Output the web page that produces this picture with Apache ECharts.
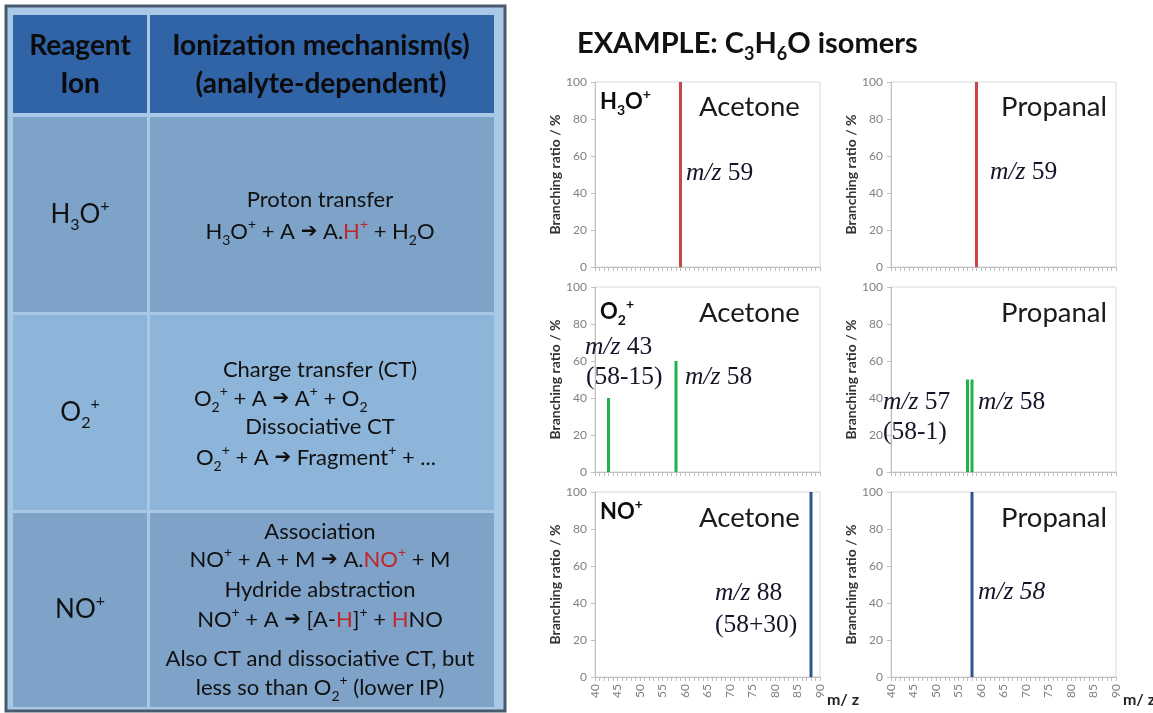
<!DOCTYPE html>
<html><head><meta charset="utf-8">
<script src="https://cdn.jsdelivr.net/npm/echarts@6/dist/echarts.min.js"></script>
<style>html,body{margin:0;padding:0;background:#fff}#c{width:1153px;height:713px}</style>
</head><body><div id="c"></div>
<script>
// ---------------- data ----------------
const mzMin = 40, mzMax = 90, mzStep = 5;          // m/z axis
const brMin = 0, brMax = 100, brStep = 20;         // branching ratio axis
const reagentIons = ['H{b|3}O{p|+}', 'O{b|2}{p|+}', 'NO{p|+}'];
const isomers = ['Acetone', 'Propanal'];
// [m/z, branching ratio %]
const h3oAcetone  = [[59, 100]];
const h3oPropanal = [[59, 100]];
const o2Acetone   = [[43, 40], [58, 60]];
const o2Propanal  = [[57, 50], [58, 50]];
const noAcetone   = [[88, 100]];
const noPropanal  = [[58, 100]];
const rowColors = ['#c8464a', '#22b24c', '#2d5493'];

// table text
const tableHeader1 = ['Reagent', 'Ion'];
const tableHeader2 = ['Ionization mechanism(s)', '(analyte-dependent)'];
const rowH3O = ['Proton transfer', 'H{b|3}O{p|+} + A {a|➔} A.{r|H}{rp|+} + H{b|2}O'];
const rowO2 = ['Charge transfer (CT)', 'O{b|2}{p|+} + A {a|➔} A{p|+} + O{b|2}', 'Dissociative CT', 'O{b|2}{p|+} + A {a|➔} Fragment{p|+} + ...'];
const rowNO = ['Association', 'NO{p|+} + A + M {a|➔} A.{r|NO}{rp|+} + M', 'Hydride abstraction', 'NO{p|+} + A {a|➔} [A-{r|H}]{p|+} + {r|H}NO', 'Also CT and dissociative CT, but', 'less so than O{b|2}{p|+} (lower IP)'];

// annotations
const titleText = 'EXAMPLE: C{b|3}H{b|6}O isomers';
const annotations = [
  ['{i|m/z} 59'], ['{i|m/z} 59'],
  ['{i|m/z} 43', '(58-15)', '{i|m/z} 58'], ['{i|m/z} 57', '(58-1)', '{i|m/z} 58'],
  ['{i|m/z} 88', '(58+30)'], ['{i|m/z 58}']
];

// ---------------- styles / layout ----------------
const FONT = 'Lato, "DejaVu Sans", sans-serif';
const SERIF = '"Liberation Serif", "DejaVu Serif", serif';
const ARROWF = '"DejaVu Sans", sans-serif';

function rich(size, weight, color) {
  const s = Math.round(size * 0.62);
  return {
    b: {fontSize: s, fontFamily: FONT, fontWeight: weight, lineHeight: s, verticalAlign: 'bottom', fill: color},
    p: {fontSize: s, fontFamily: FONT, fontWeight: weight, lineHeight: Math.round(s * 1.3), verticalAlign: 'top', fill: color},
    r: {fontSize: size, fontFamily: FONT, fontWeight: weight, fill: '#c0262c'},
    rp: {fontSize: s, fontFamily: FONT, fontWeight: weight, lineHeight: Math.round(s * 1.3), verticalAlign: 'top', fill: '#c0262c'},
    a: {fontSize: Math.round(size * 0.9), fontFamily: ARROWF, fill: color},
    i: {fontSize: size, fontFamily: SERIF, fontStyle: 'italic', fill: color}
  };
}
function txt(text, x, y, size, opts) {
  opts = opts || {};
  const weight = opts.weight || 'normal';
  const color = opts.color || '#111';
  const fam = opts.family || FONT;
  return {
    type: 'text', x: x, y: y, z: 100,
    style: {
      text: text, fontSize: size, fontFamily: fam, fontWeight: weight,
      fontStyle: opts.style || 'normal', fill: color,
      lineHeight: Math.round(size * 1.35),
      align: opts.align || 'center', verticalAlign: 'middle',
      rich: rich(size, weight, color)
    }
  };
}
function rect(x, y, w, h, fill, stroke, lw) {
  return {type: 'rect', z: 1, shape: {x: x, y: y, width: w, height: h},
    style: {fill: fill, stroke: stroke || null, lineWidth: lw || 0}};
}

const graphics = [];
// table frame and cells
graphics.push(rect(6, 6, 499, 705, '#a8c8e5', '#4a5a6d', 3));
const colX = [[13, 134], [150, 344]];
const rowY = [[15, 98, '#3163a7'], [117, 195, '#7ea3c9'], [315, 195, '#8db4d9'], [513, 194, '#7ea2c8']];
rowY.forEach(r => colX.forEach(c => graphics.push(rect(c[0], r[0], c[1], r[1], r[2]))));

const hdr = {weight: 'bold', color: '#0b0b0b'};
graphics.push(txt(tableHeader1[0], 80, 46, 28, hdr), txt(tableHeader1[1], 80, 84, 28, hdr));
graphics.push(txt(tableHeader2[0], 321, 46, 28, hdr), txt(tableHeader2[1], 321, 84, 28, hdr));
const ionY = [215, 413, 610];
reagentIons.forEach((t, i) => graphics.push(txt(t, 80, ionY[i], 26)));

const BS = 22;
graphics.push(txt(rowH3O[0], 320, 200, BS), txt(rowH3O[1], 320, 232, BS));
graphics.push(txt(rowO2[0], 320, 370, BS), txt(rowO2[1], 194, 399, BS, {align: 'left'}),
              txt(rowO2[2], 320, 427, BS), txt(rowO2[3], 196, 458, BS, {align: 'left'}));
const noY = [532, 560, 590, 620, 659, 688];
rowNO.forEach((t, i) => graphics.push(txt(t, 320, noY[i], BS)));

// right side title
graphics.push(txt(titleText, 577, 44, 29, {weight: 'bold', align: 'left', color: '#111'}));

// panels layout
const gridTops = [82, 287, 492];
const gridLefts = [595, 891];
const gridW = 225, gridH = 185;
const panelData = [h3oAcetone, h3oPropanal, o2Acetone, o2Propanal, noAcetone, noPropanal];

// panel labels
const ionLabelY = [102, 312, 512];
const nameY = [107, 313, 518];
reagentIons.forEach((t, r) => {
  graphics.push(txt(t, 600, ionLabelY[r], 22, {weight: 'bold', align: 'left', color: '#0d0d0d'}));
  graphics.push(txt(isomers[0], 699, nameY[r], 27.5, {align: 'left', color: '#1a1a1a'}));
  graphics.push(txt(isomers[1], 1107, nameY[r], 27.5, {align: 'right', color: '#1a1a1a'}));
});
const annPos = [
  [[686, 173]], [[990, 172]],
  [[585, 347], [586, 377], [685, 377]], [[883, 402], [883, 432], [978, 402]],
  [[715, 593], [715, 625]], [[978, 592]]
];
annotations.forEach((arr, k) => arr.forEach((t, j) =>
  graphics.push(txt(t, annPos[k][j][0], annPos[k][j][1], 25.5, {family: SERIF, align: 'left', color: '#15152a'}))));

// ---------------- chart ----------------
const grids = [], xAxes = [], yAxes = [], series = [];
for (let r = 0; r < 3; r++) {
  for (let c = 0; c < 2; c++) {
    const k = r * 2 + c;
    grids.push({left: gridLefts[c], top: gridTops[r], width: gridW, height: gridH,
      show: true, borderColor: '#d9d9d9', borderWidth: 1, backgroundColor: 'transparent',
      containLabel: false, outerBoundsMode: 'none'});
    const last = r === 2;
    xAxes.push({type: 'value', gridIndex: k, min: mzMin, max: mzMax, interval: mzStep,
      axisLine: {show: true, onZero: false, lineStyle: {color: '#bfbfbf', width: 1}},
      axisTick: {show: true, length: 4, lineStyle: {color: '#bfbfbf'}},
      minorTick: {show: true, splitNumber: 5, length: 4, lineStyle: {color: '#bfbfbf'}},
      splitLine: {show: false},
      axisLabel: {show: last, rotate: 90, color: '#808080', fontSize: 12, fontFamily: FONT, margin: 7},
      name: last ? 'm/ z' : '', nameLocation: 'end', nameGap: 5,
      nameTextStyle: {fontSize: 16, fontWeight: 'bold', color: '#222', fontFamily: FONT,
        verticalAlign: 'top', padding: [15, 0, 0, 0]}
    });
    yAxes.push({type: 'value', gridIndex: k, min: brMin, max: brMax, interval: brStep,
      axisLine: {show: true, lineStyle: {color: '#bfbfbf', width: 1}},
      axisTick: {show: true, length: 4, lineStyle: {color: '#bfbfbf'}},
      splitLine: {show: false},
      axisLabel: {color: '#808080', fontSize: 12, fontFamily: FONT, margin: 8},
      name: 'Branching ratio / %', nameLocation: 'middle', nameGap: 29,
      nameTextStyle: {fontSize: 14, fontWeight: 'bold', color: '#333', fontFamily: FONT}
    });
    series.push({type: 'bar', xAxisIndex: k, yAxisIndex: k, data: panelData[k],
      barWidth: 3, itemStyle: {color: rowColors[r]}, silent: true});
  }
}

const chart = echarts.init(document.getElementById('c'), null, {renderer: 'canvas'});
chart.setOption({
  animation: false,
  backgroundColor: '#fff',
  grid: grids, xAxis: xAxes, yAxis: yAxes, series: series,
  graphic: {elements: graphics}
});
</script></body></html>
